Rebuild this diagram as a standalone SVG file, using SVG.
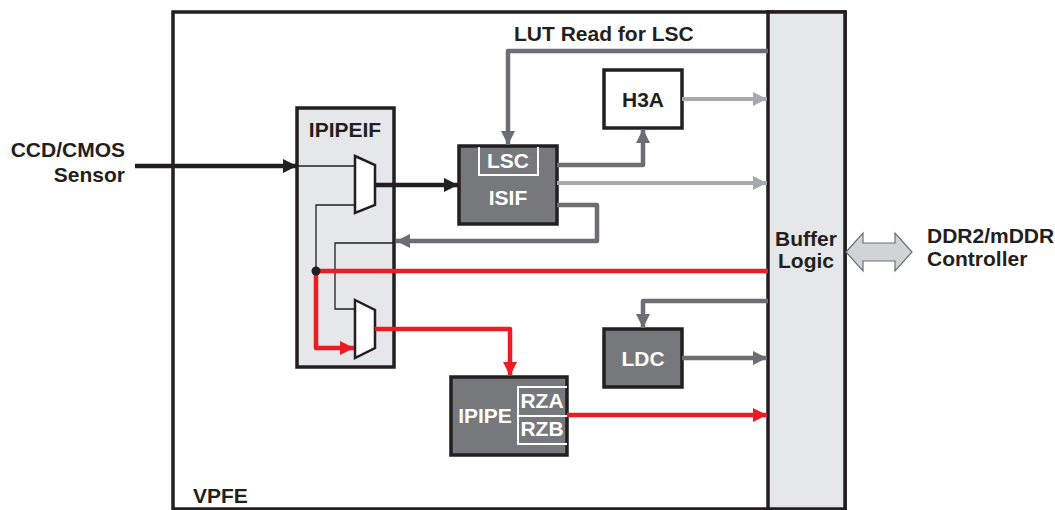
<svg xmlns="http://www.w3.org/2000/svg" width="1055" height="510" viewBox="0 0 1055 510">
<defs>
<style>
.t{font-family:"Liberation Sans",Arial,sans-serif;font-weight:bold;font-size:21px;fill:#231f20}
.w{fill:#ffffff}
.box{stroke:#231f20;stroke-width:3.5}
.thin{fill:none;stroke:#231f20;stroke-width:1.3}
.blk{fill:none;stroke:#231f20;stroke-width:4.5}
.red{fill:none;stroke:#ed1c24;stroke-width:4.5;stroke-linejoin:round}
.gry{fill:none;stroke:#6d6e71;stroke-width:4.5;stroke-linejoin:round}
.lgt{fill:none;stroke:#a7a9ac;stroke-width:4}
</style>
<marker id="ab" markerUnits="userSpaceOnUse" markerWidth="14" markerHeight="14" refX="14" refY="7" orient="auto"><path d="M0,0 L14,7 L0,14 z" fill="#231f20"/></marker>
<marker id="ar" markerUnits="userSpaceOnUse" markerWidth="14" markerHeight="14" refX="14" refY="7" orient="auto"><path d="M0,0 L14,7 L0,14 z" fill="#ed1c24"/></marker>
<marker id="ag" markerUnits="userSpaceOnUse" markerWidth="14" markerHeight="14" refX="14" refY="7" orient="auto"><path d="M0,0 L14,7 L0,14 z" fill="#6d6e71"/></marker>
<marker id="al" markerUnits="userSpaceOnUse" markerWidth="14" markerHeight="14" refX="14" refY="7" orient="auto"><path d="M0,0 L14,7 L0,14 z" fill="#a7a9ac"/></marker>
</defs>
<rect width="1055" height="510" fill="#ffffff"/>
<g id="vpfe">
<rect x="173" y="12" width="672" height="497" fill="#ffffff" class="box"/>
<text class="t" x="193" y="503">VPFE</text>
</g>
<g id="buffer-logic">
<rect x="768" y="12" width="77" height="497" fill="#e6e7e8" class="box"/>
<text class="t" x="806" y="246" text-anchor="middle">Buffer</text>
<text class="t" x="806" y="268" text-anchor="middle">Logic</text>
</g>
<g id="ipipeif">
<rect x="297" y="108" width="97" height="259" fill="#e6e7e8" class="box"/>
<text class="t" x="345" y="137" text-anchor="middle">IPIPEIF</text>
</g>
<g id="mux1"><polygon points="355,156 375,165 375,205 355,213" fill="#ffffff" stroke="#231f20" stroke-width="2.5"/></g>
<g id="mux2"><polygon points="355,300 375,310 375,348 355,358" fill="#ffffff" stroke="#231f20" stroke-width="2.5"/></g>
<g id="isif">
<rect x="459" y="146" width="98" height="78" fill="#77787b" class="box"/>
<path d="M479,147 V175 H538 V147" fill="none" stroke="#ffffff" stroke-width="2"/>
<text class="t w" x="508" y="168" text-anchor="middle">LSC</text>
<text class="t w" x="508" y="205" text-anchor="middle">ISIF</text>
</g>
<g id="h3a">
<rect x="604" y="70" width="78" height="58" fill="#ffffff" class="box"/>
<text class="t" x="643" y="107" text-anchor="middle">H3A</text>
</g>
<g id="ldc">
<rect x="604" y="329" width="78" height="58" fill="#77787b" class="box"/>
<text class="t w" x="643" y="366" text-anchor="middle">LDC</text>
</g>
<g id="ipipe">
<rect x="451" y="377" width="116" height="78" fill="#77787b" class="box"/>
<path d="M567,387 H518 V444 H567 M518,416 H567" fill="none" stroke="#ffffff" stroke-width="2"/>
<text class="t w" x="485" y="423" text-anchor="middle">IPIPE</text>
<text class="t w" x="542" y="408" text-anchor="middle">RZA</text>
<text class="t w" x="542" y="436" text-anchor="middle">RZB</text>
</g>
<g id="ddr">
<polygon points="846,252 863,233 863,243 895,243 895,233 912,252 895,271 895,261 863,261 863,271" fill="#d1d3d4" stroke="#6d6e71" stroke-width="1.2"/>
<text class="t" x="927" y="243">DDR2/mDDR</text>
<text class="t" x="927" y="266">Controller</text>
</g>
<g id="sensor">
<text class="t" x="125" y="157" text-anchor="end">CCD/CMOS</text>
<text class="t" x="125" y="182" text-anchor="end">Sensor</text>
</g>
<g id="connectors">
<text class="t" x="514" y="41">LUT Read for LSC</text>
<path class="blk" d="M135,166 H297" marker-end="url(#ab)"/>
<path class="thin" d="M297,166 H355"/>
<path class="blk" d="M375,185 H458" marker-end="url(#ab)"/>
<path class="thin" d="M355,205 H316 V271"/>
<path class="thin" d="M394,243 H335 V309 H355"/>
<path class="gry" d="M557,205 H597 V241 H396" marker-end="url(#ag)"/>
<path class="red" d="M768,271 H316 V348 H354" marker-end="url(#ar)"/>
<circle cx="316" cy="271" r="4.5" fill="#231f20"/>
<path class="red" d="M375,329 H510 V376" marker-end="url(#ar)"/>
<path class="gry" d="M768,51 H508 V145" marker-end="url(#ag)"/>
<path class="gry" d="M557,165 H643 V129" marker-end="url(#ag)"/>
<path class="lgt" d="M557,183 H767" marker-end="url(#al)"/>
<path class="lgt" d="M682,99 H767" marker-end="url(#al)"/>
<path class="gry" d="M768,301 H643 V328" marker-end="url(#ag)"/>
<path class="gry" d="M682,358 H767" marker-end="url(#ag)"/>
<path class="red" d="M567,415 H767" marker-end="url(#ar)"/>
</g>
</svg>
